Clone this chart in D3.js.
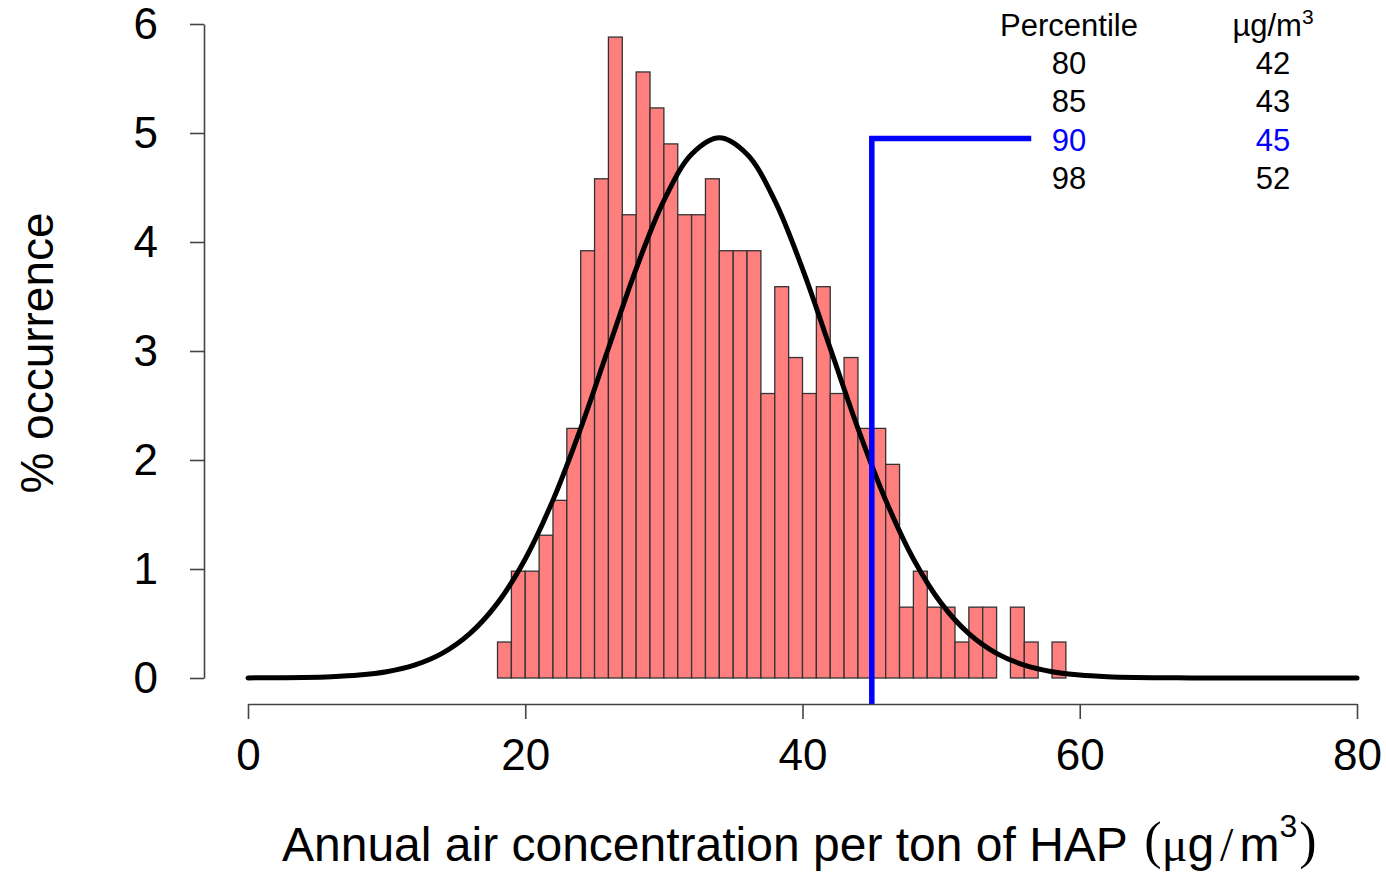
<!DOCTYPE html>
<html>
<head>
<meta charset="utf-8">
<script src="https://cdn.jsdelivr.net/npm/d3@7"></script>
<style>
  html, body { margin: 0; padding: 0; background: #fff; }
  svg { display: block; font-family: "Liberation Sans", Arial, sans-serif; }
</style>
</head>
<body>
<svg id="chart" width="1386" height="872"></svg>
<script>
// ---------- data ----------
const binStarts = [18,19,20,21,22,23,24,25,26,27,28,29,30,31,32,33,34,35,36,37,38,39,40,41,42,43,44,45,46,47,48,49,50,51,52,53,54,55,56,57,58];
const binPercent = [0.33,0.98,0.98,1.31,1.63,2.29,3.92,4.58,5.88,4.25,5.56,5.23,4.90,4.25,4.25,4.58,3.92,3.92,3.92,2.61,3.59,2.94,2.61,3.59,2.61,2.94,2.29,2.29,1.96,0.65,0.98,0.65,0.65,0.33,0.65,0.65,0,0.65,0.33,0,0.33];
const curveX = [0,2,4,6,8,10,12,14,16,18,20,22,24,26,28,30,32,34,36,38,40,42,44,46,48,50,52,54,56,58,60,62,64,66,68,70,72,74,76,78,80];
const curveY = [0.001,0.002,0.005,0.012,0.027,0.058,0.118,0.226,0.407,0.687,1.092,1.632,2.291,3.025,3.754,4.380,4.805,4.956,4.805,4.380,3.754,3.025,2.291,1.632,1.092,0.687,0.407,0.226,0.118,0.058,0.027,0.012,0.005,0.002,0.001,0,0,0,0,0,0];
const xTicks = [0,20,40,60,80];
const yTicks = [0,1,2,3,4,5,6];
const percentiles = ["80","85","90","98"];
const percentileValues = ["42","43","45","52"];
const highlightPercentile = "90";
const highlightValue = 45;      // µg/m3 at the 90th percentile
const highlightHeight = 4.95;   // height of the marker line
const markerEndX = 56.5;        // where the marker arm ends (toward the table)

// ---------- layout ----------
const svg = d3.select("#chart");
const x = d3.scaleLinear().domain([0, 80]).range([248, 1357]);
const y = d3.scaleLinear().domain([0, 6]).range([678, 24]);
const xAxisY = 704;
const yAxisX = 204;

// histogram bars
svg.append("g")
  .selectAll("rect")
  .data(binStarts.map((b, i) => ({ b, v: binPercent[i] })))
  .join("rect")
  .attr("x", d => x(d.b))
  .attr("width", d => x(d.b + 1) - x(d.b))
  .attr("y", d => y(d.v))
  .attr("height", d => y(0) - y(d.v))
  .attr("fill", "#ff7f7f")
  .attr("stroke", "#333")
  .attr("stroke-width", 1.3);

// fitted curve
const line = d3.line()
  .x((d, i) => x(curveX[i]))
  .y(d => y(d))
  .curve(d3.curveCatmullRom.alpha(0.5));
svg.append("path")
  .attr("d", line(curveY))
  .attr("fill", "none")
  .attr("stroke", "#000")
  .attr("stroke-width", 5)
  .attr("stroke-linecap", "round")
  .attr("stroke-linejoin", "round");

// blue percentile marker
svg.append("path")
  .attr("d", `M${x(highlightValue)},${xAxisY} L${x(highlightValue)},${y(highlightHeight)} L${x(markerEndX)},${y(highlightHeight)}`)
  .attr("fill", "none")
  .attr("stroke", "#0000ff")
  .attr("stroke-width", 5.5)
  .attr("stroke-linejoin", "miter");

// axes
const yAxis = d3.axisLeft(y).tickValues(yTicks).tickSize(14).tickSizeOuter(0).tickPadding(32).tickFormat(d3.format("d"));
const gy = svg.append("g").attr("transform", `translate(${yAxisX},0)`).call(yAxis);
const xAxis = d3.axisBottom(x).tickValues(xTicks).tickSize(15).tickSizeOuter(0).tickPadding(20).tickFormat(d3.format("d"));
const gx = svg.append("g").attr("transform", `translate(0,${xAxisY})`).call(xAxis);
[gx, gy].forEach(g => {
  g.selectAll("path.domain").attr("stroke", "#444").attr("stroke-width", 1.6);
  g.selectAll(".tick line").attr("stroke", "#444").attr("stroke-width", 1.6);
  g.selectAll(".tick text").attr("fill", "#000").style("font-size", "44px")
    .style("font-family", '"Liberation Sans", Arial, sans-serif');
});

// y title
svg.append("text")
  .attr("transform", "translate(53,353) rotate(-90)")
  .attr("text-anchor", "middle")
  .style("font-size", "46px")
  .text("% occurrence");

// x title
const xt = svg.append("text")
  .attr("x", 282)
  .attr("y", 861)
  .style("font-size", "48px");
xt.append("tspan").text("Annual air concentration per ton of HAP ");
xt.append("tspan").attr("dx", 4).style("font-family", '"Liberation Serif", serif').style("font-size", "52px").attr("dy", -3).text("(");
xt.append("tspan").style("font-family", '"Liberation Serif", serif').attr("dy", 3).text("μ");
xt.append("tspan").text("g");
xt.append("tspan").attr("dx", 6).style("font-family", '"Liberation Serif", serif').text("/");
xt.append("tspan").attr("dx", 6).text("m");
xt.append("tspan").style("font-size", "32px").attr("dy", -24).text("3");
xt.append("tspan").attr("dx", 2).style("font-family", '"Liberation Serif", serif').style("font-size", "52px").attr("dy", 21).text(")");

// percentile table
const tbl = svg.append("g").style("font-size", "31px");
const col1 = 1069, col2 = 1273;
tbl.append("text").attr("x", col1).attr("y", 36).attr("text-anchor", "middle").text("Percentile");
const hdr = tbl.append("text").attr("x", col2).attr("y", 36).attr("text-anchor", "middle");
hdr.append("tspan").text("µg/m");
hdr.append("tspan").style("font-size", "21px").attr("dy", -12).text("3");
percentiles.forEach((p, i) => {
  const c = p === highlightPercentile ? "#0000ff" : "#000";
  tbl.append("text").attr("x", col1).attr("y", 74 + i * 38.3).attr("text-anchor", "middle").attr("fill", c).text(p);
  tbl.append("text").attr("x", col2).attr("y", 74 + i * 38.3).attr("text-anchor", "middle").attr("fill", c).text(percentileValues[i]);
});
</script>
</body>
</html>
